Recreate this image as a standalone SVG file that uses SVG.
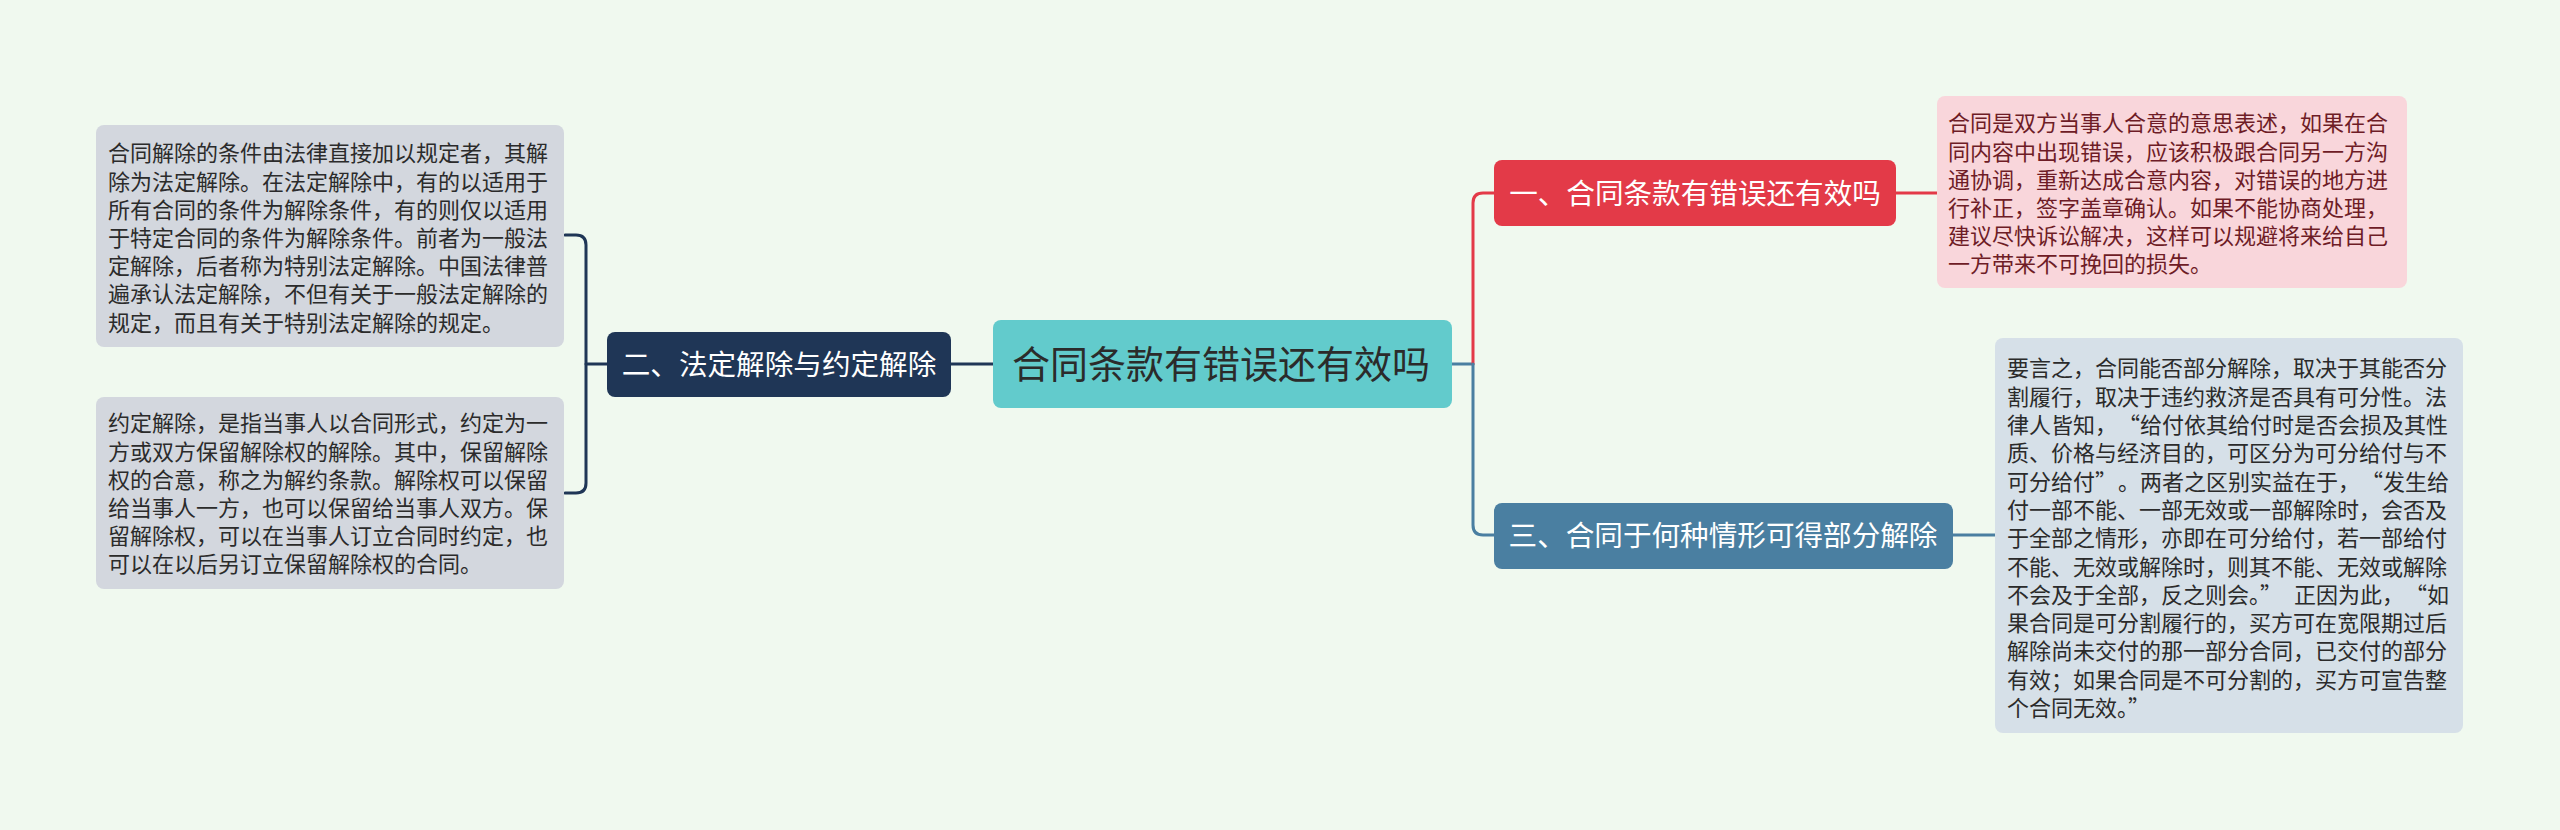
<svg xmlns="http://www.w3.org/2000/svg" width="2560" height="830" viewBox="0 0 2560 830">
<style>
text{font-family:"Liberation Sans","Noto Sans CJK SC",sans-serif;}
.q{font-family:"Noto Sans CJK SC",sans-serif;}
.box{rx:8;ry:8;}
.t22{font-size:22px;}
.dark{fill:#2b2b2b;}
.pinkt{fill:#6e1c26;}
.white{fill:#ffffff;}
.conn{fill:none;stroke-width:3;stroke-linecap:round;}
</style>
<rect width="2560" height="830" fill="#f0f9ef"/>
<g id="connectors">
<path class="conn" stroke="#1f3656" d="M951,364 H993"/>
<path class="conn" stroke="#1f3656" d="M607,364 H586"/>
<path class="conn" stroke="#1f3656" d="M565,235 H576 Q586,235 586,245 V483 Q586,493 576,493 H565"/>
<path class="conn" stroke="#4a7fa1" d="M1452,364 H1473"/>
<path class="conn" stroke="#e33a48" d="M1473,364 V203 Q1473,193 1483,193 H1494"/>
<path class="conn" stroke="#4a7fa1" d="M1473,364 V525 Q1473,535 1483,535 H1494"/>
<path class="conn" stroke="#e33a48" d="M1896,193 H1937"/>
<path class="conn" stroke="#4a7fa1" d="M1953,535 H1995"/>
</g>
<g id="center">
<rect class="box" x="993" y="320" width="459" height="88" fill="#62cbcc"/>
<text x="1221" y="378" text-anchor="middle" font-size="38" class="dark">合同条款有错误还有效吗</text>
</g>
<g id="branch2">
<rect class="box" x="607" y="332" width="344" height="65" fill="#1f3656"/>
<text x="779" y="375" text-anchor="middle" font-size="28.6" class="white">二、法定解除与约定解除</text>
</g>
<g id="branch1">
<rect class="box" x="1494" y="160" width="402" height="66" fill="#e33a48"/>
<text x="1695" y="204" text-anchor="middle" font-size="28.6" class="white">一、合同条款有错误还有效吗</text>
</g>
<g id="branch3">
<rect class="box" x="1494" y="503" width="459" height="66" fill="#4a7fa1"/>
<text x="1723" y="546" text-anchor="middle" font-size="28.6" class="white">三、合同于何种情形可得部分解除</text>
</g>
<g id="leaf-left-1">
<rect class="box" x="96" y="125" width="468" height="222" fill="#d3d7de"/>
<text class="t22 dark">
<tspan x="108" y="161.4">合同解除的条件由法律直接加以规定者，其解</tspan>
<tspan x="108" y="189.6">除为法定解除。在法定解除中，有的以适用于</tspan>
<tspan x="108" y="217.8">所有合同的条件为解除条件，有的则仅以适用</tspan>
<tspan x="108" y="246">于特定合同的条件为解除条件。前者为一般法</tspan>
<tspan x="108" y="274.2">定解除，后者称为特别法定解除。中国法律普</tspan>
<tspan x="108" y="302.4">遍承认法定解除，不但有关于一般法定解除的</tspan>
<tspan x="108" y="330.6">规定，而且有关于特别法定解除的规定。</tspan>
</text>
</g>
<g id="leaf-left-2">
<rect class="box" x="96" y="397" width="468" height="192" fill="#d3d7de"/>
<text class="t22 dark">
<tspan x="108" y="431.4">约定解除，是指当事人以合同形式，约定为一</tspan>
<tspan x="108" y="459.6">方或双方保留解除权的解除。其中，保留解除</tspan>
<tspan x="108" y="487.8">权的合意，称之为解约条款。解除权可以保留</tspan>
<tspan x="108" y="516">给当事人一方，也可以保留给当事人双方。保</tspan>
<tspan x="108" y="544.2">留解除权，可以在当事人订立合同时约定，也</tspan>
<tspan x="108" y="572.4">可以在以后另订立保留解除权的合同。</tspan>
</text>
</g>
<g id="leaf-right-1">
<rect class="box" x="1937" y="96" width="470" height="192" fill="#f9d6db"/>
<text class="t22 pinkt">
<tspan x="1948" y="131.4">合同是双方当事人合意的意思表述，如果在合</tspan>
<tspan x="1948" y="159.6">同内容中出现错误，应该积极跟合同另一方沟</tspan>
<tspan x="1948" y="187.8">通协调，重新达成合意内容，对错误的地方进</tspan>
<tspan x="1948" y="216">行补正，签字盖章确认。如果不能协商处理，</tspan>
<tspan x="1948" y="244.2">建议尽快诉讼解决，这样可以规避将来给自己</tspan>
<tspan x="1948" y="272.4">一方带来不可挽回的损失。</tspan>
</text>
</g>
<g id="leaf-right-3">
<rect class="box" x="1995" y="338" width="468" height="395" fill="#d6e0e8"/>
<text class="t22 dark">
<tspan x="2007" y="376.4">要言之，合同能否部分解除，取决于其能否分</tspan>
<tspan x="2007" y="404.7">割履行，取决于违约救济是否具有可分性。法</tspan>
<tspan x="2007" y="433">律人皆知，<tspan class="q" dx="12">“</tspan>给付依其给付时是否会损及其性</tspan>
<tspan x="2007" y="461.3">质、价格与经济目的，可区分为可分给付与不</tspan>
<tspan x="2007" y="489.6">可分给付<tspan class="q">”</tspan><tspan dx="12">。两者之区别实益在于，</tspan><tspan class="q" dx="12">“</tspan>发生给</tspan>
<tspan x="2007" y="517.9">付一部不能、一部无效或一部解除时，会否及</tspan>
<tspan x="2007" y="546.2">于全部之情形，亦即在可分给付，若一部给付</tspan>
<tspan x="2007" y="574.5">不能、无效或解除时，则其不能、无效或解除</tspan>
<tspan x="2007" y="602.8">不会及于全部，反之则会。<tspan class="q">”</tspan><tspan dx="12">正因为此，</tspan><tspan class="q" dx="12">“</tspan>如</tspan>
<tspan x="2007" y="631.1">果合同是可分割履行的，买方可在宽限期过后</tspan>
<tspan x="2007" y="659.4">解除尚未交付的那一部分合同，已交付的部分</tspan>
<tspan x="2007" y="687.7">有效；如果合同是不可分割的，买方可宣告整</tspan>
<tspan x="2007" y="716">个合同无效。<tspan class="q">”</tspan></tspan>
</text>
</g>
</svg>
